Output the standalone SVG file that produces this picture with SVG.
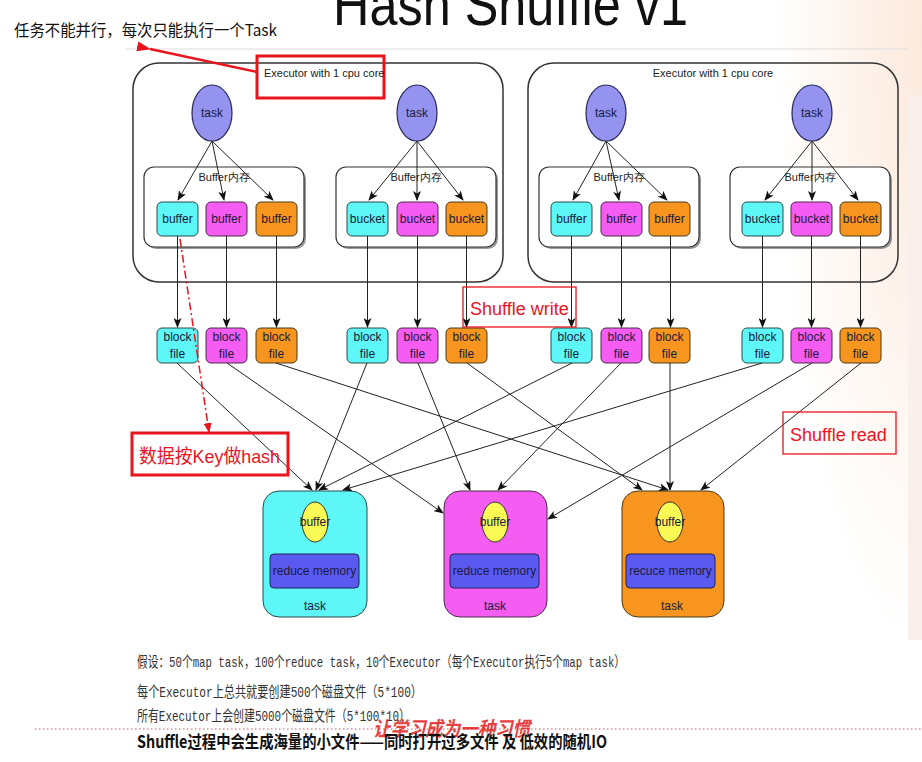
<svg xmlns="http://www.w3.org/2000/svg" width="922" height="762" viewBox="0 0 922 762">
<defs>
<marker id="arr" markerUnits="userSpaceOnUse" markerWidth="10" markerHeight="8" refX="9" refY="4" orient="auto"><path d="M0,0 L10,4 L0,8 L2.5,4 z" fill="#111"/></marker>
<marker id="rarr" markerUnits="userSpaceOnUse" markerWidth="14" markerHeight="10" refX="1" refY="5" orient="auto"><path d="M14,0 L0,5 L14,10 z" fill="#e8141e"/></marker>
<marker id="rarr2" markerUnits="userSpaceOnUse" markerWidth="10" markerHeight="8" refX="9" refY="4" orient="auto"><path d="M0,0 L10,4 L0,8 z" fill="#e8141e"/></marker>
<radialGradient id="peach" cx="1" cy="0.05" r="0.8"><stop offset="0" stop-color="#fce9dc"/><stop offset="1" stop-color="#fce9dc" stop-opacity="0"/></radialGradient>
<style>
.exec{fill:none;stroke:#333;stroke-width:1.5}
.grp{fill:#fff;stroke:#333;stroke-width:1.2}
.shadow{fill:#999}
.task{fill:#9494f0;stroke:#2a2a5a;stroke-width:1.2}
.c{fill:#5ef7f7;stroke:#2a4a4a;stroke-width:1}
.m{fill:#f55cf2;stroke:#4a2a4a;stroke-width:1}
.o{fill:#f7951f;stroke:#4a3a1a;stroke-width:1}
.t{font-family:"Liberation Sans",Arial,sans-serif;font-size:12px;fill:#1a1a3a;text-anchor:middle}
.s{font-family:"Liberation Sans",Arial,sans-serif;font-size:11px;fill:#222}
.conn line{stroke:#222;stroke-width:1;marker-end:url(#arr)}
.yel{fill:#fafa55;stroke:#333;stroke-width:1}
.rm{fill:#5a5af0;stroke:#22225a;stroke-width:1}
.red{fill:none;stroke:#e8141e}
.rt{font-family:"Liberation Sans",Arial,"Noto Sans CJK SC",sans-serif;fill:#e8141e}
.bt{font-family:"Liberation Mono","Noto Sans CJK SC",monospace;font-size:15px;fill:#333}
</style>
</defs>
<rect width="922" height="762" fill="#fff"/>
<rect x="740" y="0" width="182" height="762" fill="url(#peach)"/>
<rect x="908" y="95" width="14" height="545" fill="#faf0eb"/>
<line x1="125" y1="49" x2="908" y2="49" stroke="#ddd" stroke-width="1"/>

<text x="333" y="25" font-family="Liberation Sans,sans-serif" font-size="60" fill="#111" textLength="355" lengthAdjust="spacingAndGlyphs">Hash Shuffle v1</text>

<g id="note-top">
<text x="14" y="36" font-family="Noto Sans CJK SC,sans-serif" font-size="16" fill="#111" textLength="263" lengthAdjust="spacingAndGlyphs">任务不能并行，每次只能执行一个Task</text>
</g>

<g id="executor1">
<rect class="exec" x="133" y="63" width="370" height="219" rx="26"/>
<rect class="red" x="257" y="56" width="127" height="42" stroke-width="3"/>
<text class="s" x="264" y="77">Executor with 1 cpu core</text>
</g>
<g id="executor2">
<rect class="exec" x="528" y="63" width="370" height="219" rx="26"/>
<text class="s" x="713" y="77" text-anchor="middle">Executor with 1 cpu core</text>
</g>

<g id="buffer-groups">
<rect class="shadow" x="146" y="169" width="160" height="80" rx="10"/>
<rect class="grp" x="144" y="167" width="160" height="80" rx="10"/>
<text class="s" x="224" y="181" text-anchor="middle">Buffer内存</text>
<rect class="shadow" x="338" y="169" width="160" height="80" rx="10"/>
<rect class="grp" x="336" y="167" width="160" height="80" rx="10"/>
<text class="s" x="416" y="181" text-anchor="middle">Buffer内存</text>
<rect class="shadow" x="541" y="169" width="160" height="80" rx="10"/>
<rect class="grp" x="539" y="167" width="160" height="80" rx="10"/>
<text class="s" x="619" y="181" text-anchor="middle">Buffer内存</text>
<rect class="shadow" x="732" y="169" width="160" height="80" rx="10"/>
<rect class="grp" x="730" y="167" width="160" height="80" rx="10"/>
<text class="s" x="810" y="181" text-anchor="middle">Buffer内存</text>
</g>

<g id="tasks">
<g id="task1"><ellipse class="task" cx="212" cy="113" rx="20" ry="28"/><text class="t" x="212" y="117">task</text></g>
<g id="task2"><ellipse class="task" cx="417" cy="113" rx="20" ry="28"/><text class="t" x="417" y="117">task</text></g>
<g id="task3"><ellipse class="task" cx="606" cy="113" rx="20" ry="28"/><text class="t" x="606" y="117">task</text></g>
<g id="task4"><ellipse class="task" cx="812" cy="113" rx="20" ry="28"/><text class="t" x="812" y="117">task</text></g>
</g>

<g id="buffers">
<g id="b1"><rect class="c" x="157" y="202" width="41" height="34" rx="5"/><text class="t" x="177.5" y="223">buffer</text></g>
<g id="b2"><rect class="m" x="206" y="202" width="41" height="34" rx="5"/><text class="t" x="226.5" y="223">buffer</text></g>
<g id="b3"><rect class="o" x="256" y="202" width="41" height="34" rx="5"/><text class="t" x="276.5" y="223">buffer</text></g>
<g id="b4"><rect class="c" x="347" y="202" width="41" height="34" rx="5"/><text class="t" x="367.5" y="223">bucket</text></g>
<g id="b5"><rect class="m" x="397" y="202" width="41" height="34" rx="5"/><text class="t" x="417.5" y="223">bucket</text></g>
<g id="b6"><rect class="o" x="446" y="202" width="41" height="34" rx="5"/><text class="t" x="466.5" y="223">bucket</text></g>
<g id="b7"><rect class="c" x="551" y="202" width="41" height="34" rx="5"/><text class="t" x="571.5" y="223">buffer</text></g>
<g id="b8"><rect class="m" x="601" y="202" width="41" height="34" rx="5"/><text class="t" x="621.5" y="223">buffer</text></g>
<g id="b9"><rect class="o" x="649" y="202" width="41" height="34" rx="5"/><text class="t" x="669.5" y="223">buffer</text></g>
<g id="b10"><rect class="c" x="742" y="202" width="41" height="34" rx="5"/><text class="t" x="762.5" y="223">bucket</text></g>
<g id="b11"><rect class="m" x="791" y="202" width="41" height="34" rx="5"/><text class="t" x="811.5" y="223">bucket</text></g>
<g id="b12"><rect class="o" x="840" y="202" width="41" height="34" rx="5"/><text class="t" x="860.5" y="223">bucket</text></g>
</g>

<g id="blockfiles">
<g id="f1"><rect class="c" x="157" y="328" width="41" height="35" rx="5"/><text class="t" x="177.5" y="341">block</text><text class="t" x="177.5" y="358">file</text></g>
<g id="f2"><rect class="m" x="206" y="328" width="41" height="35" rx="5"/><text class="t" x="226.5" y="341">block</text><text class="t" x="226.5" y="358">file</text></g>
<g id="f3"><rect class="o" x="256" y="328" width="41" height="35" rx="5"/><text class="t" x="276.5" y="341">block</text><text class="t" x="276.5" y="358">file</text></g>
<g id="f4"><rect class="c" x="347" y="328" width="41" height="35" rx="5"/><text class="t" x="367.5" y="341">block</text><text class="t" x="367.5" y="358">file</text></g>
<g id="f5"><rect class="m" x="397" y="328" width="41" height="35" rx="5"/><text class="t" x="417.5" y="341">block</text><text class="t" x="417.5" y="358">file</text></g>
<g id="f6"><rect class="o" x="446" y="328" width="41" height="35" rx="5"/><text class="t" x="466.5" y="341">block</text><text class="t" x="466.5" y="358">file</text></g>
<g id="f7"><rect class="c" x="551" y="328" width="41" height="35" rx="5"/><text class="t" x="571.5" y="341">block</text><text class="t" x="571.5" y="358">file</text></g>
<g id="f8"><rect class="m" x="601" y="328" width="41" height="35" rx="5"/><text class="t" x="621.5" y="341">block</text><text class="t" x="621.5" y="358">file</text></g>
<g id="f9"><rect class="o" x="649" y="328" width="41" height="35" rx="5"/><text class="t" x="669.5" y="341">block</text><text class="t" x="669.5" y="358">file</text></g>
<g id="f10"><rect class="c" x="742" y="328" width="41" height="35" rx="5"/><text class="t" x="762.5" y="341">block</text><text class="t" x="762.5" y="358">file</text></g>
<g id="f11"><rect class="m" x="791" y="328" width="41" height="35" rx="5"/><text class="t" x="811.5" y="341">block</text><text class="t" x="811.5" y="358">file</text></g>
<g id="f12"><rect class="o" x="840" y="328" width="41" height="35" rx="5"/><text class="t" x="860.5" y="341">block</text><text class="t" x="860.5" y="358">file</text></g>
</g>

<g id="reducers">
<g id="r1"><rect class="c" x="263" y="491" width="104" height="126" rx="16"/><ellipse class="yel" cx="315" cy="522" rx="13" ry="20"/><text class="t" x="315" y="526" font-size="11">buffer</text><rect class="rm" x="270" y="554" width="89" height="34" rx="4"/><text class="t" x="314.5" y="575" font-size="11">reduce memory</text><text class="t" x="315" y="610">task</text></g>
<g id="r2"><rect class="m" x="444" y="491" width="103" height="126" rx="16"/><ellipse class="yel" cx="495" cy="522" rx="13" ry="20"/><text class="t" x="495" y="526" font-size="11">buffer</text><rect class="rm" x="450" y="554" width="89" height="34" rx="4"/><text class="t" x="494.5" y="575" font-size="11">reduce memory</text><text class="t" x="495" y="610">task</text></g>
<g id="r3"><rect class="o" x="622" y="491" width="102" height="126" rx="16"/><ellipse class="yel" cx="670" cy="522" rx="13" ry="20"/><text class="t" x="670" y="526" font-size="11">buffer</text><rect class="rm" x="626" y="554" width="89" height="34" rx="4"/><text class="t" x="670.5" y="575" font-size="11">recuce memory</text><text class="t" x="672" y="610">task</text></g>
</g>

<g id="connectors" class="conn">
<line x1="212" y1="141" x2="178" y2="200"/>
<line x1="212" y1="141" x2="224" y2="200"/>
<line x1="212" y1="141" x2="273" y2="200"/>
<line x1="417" y1="141" x2="369" y2="200"/>
<line x1="417" y1="141" x2="417" y2="200"/>
<line x1="417" y1="141" x2="463" y2="200"/>
<line x1="606" y1="141" x2="573" y2="200"/>
<line x1="606" y1="141" x2="619" y2="200"/>
<line x1="606" y1="141" x2="667" y2="200"/>
<line x1="812" y1="141" x2="765" y2="200"/>
<line x1="812" y1="141" x2="812" y2="200"/>
<line x1="812" y1="141" x2="858" y2="200"/>

<line x1="177.5" y1="236" x2="177.5" y2="327"/>
<line x1="226.5" y1="236" x2="226.5" y2="327" stroke="#888"/>
<line x1="276.5" y1="236" x2="276.5" y2="327"/>
<line x1="367.5" y1="236" x2="367.5" y2="327"/>
<line x1="417.5" y1="236" x2="417.5" y2="327"/>
<line x1="466.5" y1="236" x2="466.5" y2="327"/>
<line x1="571.5" y1="236" x2="571.5" y2="327"/>
<line x1="621.5" y1="236" x2="621.5" y2="327" stroke="#888"/>
<line x1="670.5" y1="236" x2="670.5" y2="327"/>
<line x1="762.5" y1="236" x2="762.5" y2="327"/>
<line x1="811.5" y1="236" x2="811.5" y2="327"/>
<line x1="860.5" y1="236" x2="860.5" y2="327"/>

<line x1="177" y1="363" x2="312" y2="490"/>
<line x1="367" y1="363" x2="316" y2="490"/>
<line x1="572" y1="363" x2="319" y2="490"/>
<line x1="762" y1="363" x2="343" y2="490"/>
<line x1="227" y1="363" x2="443" y2="513"/>
<line x1="418" y1="363" x2="470" y2="490"/>
<line x1="621" y1="363" x2="498" y2="490"/>
<line x1="812" y1="363" x2="548" y2="519"/>
<line x1="276" y1="363" x2="668" y2="490"/>
<line x1="467" y1="363" x2="642" y2="490"/>
<line x1="670" y1="363" x2="670" y2="490"/>
<line x1="861" y1="363" x2="701" y2="490"/>
</g>

<g id="annotations">
<line x1="257" y1="72" x2="150" y2="49" stroke="#e8141e" stroke-width="2.5" marker-end="url(#rarr)"/>
<path d="M180,239 L209,432" fill="none" stroke="#e8141e" stroke-width="1.5" stroke-dasharray="8,3,2,3" marker-end="url(#rarr2)"/>
<rect class="red" x="463" y="287" width="113" height="40" stroke-width="1.3"/>
<text class="rt" x="470" y="315" font-size="18">Shuffle write</text>
<rect class="red" x="783" y="412" width="113" height="42" stroke-width="1.3"/>
<text class="rt" x="790" y="441" font-size="18">Shuffle read</text>
<rect class="red" x="132" y="433" width="156" height="42" stroke-width="3"/>
<text class="rt" x="139" y="463" font-size="19" textLength="141" lengthAdjust="spacingAndGlyphs">数据按Key做hash</text>
</g>

<g id="bottom-notes">
<text class="bt" x="137" y="667" textLength="488" lengthAdjust="spacingAndGlyphs">假设：50个map task，100个reduce task，10个Executor（每个Executor执行5个map task）</text>
<text class="bt" x="137" y="697" textLength="285" lengthAdjust="spacingAndGlyphs">每个Executor上总共就要创建500个磁盘文件（5*100）</text>
<text class="bt" x="137" y="721" textLength="273" lengthAdjust="spacingAndGlyphs">所有Executor上会创建5000个磁盘文件（5*100*10）</text>
<line x1="35" y1="729" x2="922" y2="729" stroke="#e05050" stroke-width="1.2" stroke-dasharray="1.5,2.5"/>
<text x="373" y="736" font-family="Noto Sans CJK SC,sans-serif" font-weight="bold" font-style="italic" font-size="20" fill="#e0201e" textLength="157" lengthAdjust="spacingAndGlyphs" opacity="0.85">让学习成为一种习惯</text>
<text x="137" y="748" font-family="Noto Sans CJK SC,sans-serif" font-weight="bold" font-size="17" fill="#111" textLength="470" lengthAdjust="spacingAndGlyphs">Shuffle过程中会生成海量的小文件——同时打开过多文件 及 低效的随机IO</text>
</g>
</svg>
